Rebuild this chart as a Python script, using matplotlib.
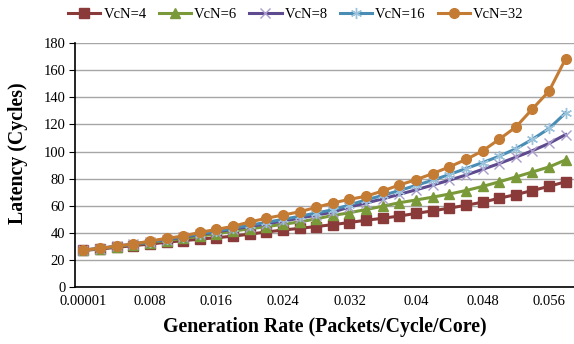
import matplotlib
matplotlib.use("Agg")
import matplotlib.pyplot as plt

# generation rate categories (packets/cycle/core)
RATES = [0.00001] + [round(0.002 * i, 3) for i in range(1, 30)]
TICK_LABELS = ["0.00001", "0.008", "0.016", "0.024", "0.032", "0.04", "0.048", "0.056"]

# latency in cycles
VCN4 = [27.0, 28.0, 29.3, 30.5, 31.7, 33.0, 34.2, 35.3, 36.4, 37.5,
        39.0, 40.6, 42.0, 43.3, 44.6, 46.0, 47.6, 49.3, 50.7, 52.4,
        54.3, 56.2, 58.2, 60.3, 62.6, 65.5, 68.2, 71.2, 74.3, 77.7]
VCN6 = [27.2, 28.3, 29.8, 31.2, 32.8, 34.3, 35.8, 37.5, 39.3, 41.2,
        43.0, 44.5, 46.3, 48.0, 50.3, 52.8, 54.8, 57.2, 59.6, 62.2,
        64.2, 66.3, 68.6, 71.2, 74.2, 77.6, 81.2, 84.9, 88.6, 93.8]
VCN8 = [27.2, 28.4, 30.0, 31.5, 33.3, 35.0, 36.8, 38.8, 40.7, 42.7,
        44.6, 46.6, 48.6, 50.8, 53.0, 55.3, 59.0, 62.0, 65.0, 68.4,
        71.7, 75.2, 78.8, 82.6, 86.8, 91.1, 95.8, 100.6, 106.0, 112.5]
VCN16 = [27.2, 28.5, 30.1, 31.6, 33.5, 35.3, 37.2, 39.3, 41.3, 43.4,
         45.6, 47.7, 49.9, 52.2, 54.6, 57.0, 60.6, 64.3, 67.6, 71.2,
         75.0, 78.8, 83.0, 87.4, 91.8, 96.5, 102.0, 109.0, 117.0, 128.5]
VCN32 = [27.3, 28.5, 30.2, 31.7, 33.9, 35.9, 37.6, 40.3, 42.5, 44.8,
         48.0, 50.7, 53.1, 55.5, 58.8, 62.0, 64.7, 67.0, 70.9, 75.3,
         79.2, 83.7, 88.6, 94.1, 100.4, 109.0, 118.0, 131.4, 144.6, 168.5]

plt.rcParams['font.family'] = ['Liberation Serif', 'DejaVu Serif']

fig = plt.figure(figsize=(5.74, 3.44), dpi=100)
ax = fig.add_axes([0.1307, 0.1657, 0.8693, 0.709])

x = list(range(len(RATES)))
ax.plot(x, VCN4, color='#8B3A3A', lw=2.2, marker='s', ms=6.5, label='VcN=4')
ax.plot(x, VCN6, color='#7A9A3A', lw=2.2, marker='^', ms=7, label='VcN=6')
ax.plot(x, VCN8, color='#5E4A8E', lw=2.2, marker='x', ms=7, mew=1,
        mec='#A99BCB', label='VcN=8')
ax.plot(x, VCN16, color='#4A8DB4', lw=2.2, marker=(6, 2, 0), ms=8, mew=1,
        mec='#9CC3DC', label='VcN=16')
ax.plot(x, VCN32, color='#C47C34', lw=2.2, marker='o', ms=7, label='VcN=32')

ax.set_xlim(-0.5, len(RATES) - 0.5)
ax.set_ylim(0, 180)
ax.set_yticks(range(0, 181, 20))
ax.set_xticks(x[::4])
ax.set_xticklabels(TICK_LABELS)
ax.tick_params(axis='x', length=0, labelsize=10.5, pad=6)
ax.tick_params(axis='y', length=4, labelsize=10.5, pad=3)
ax.yaxis.grid(True, color='#A6A6A6', lw=1)
ax.set_axisbelow(True)
for side in ['top', 'right']:
    ax.spines[side].set_visible(False)
for side in ['left', 'bottom']:
    ax.spines[side].set_linewidth(1.2)

ax.set_xlabel('Generation Rate (Packets/Cycle/Core)', fontsize=14.3,
              fontweight='bold', labelpad=6)
ax.set_ylabel('Latency (Cycles)', fontsize=14.3, fontweight='bold')
ax.yaxis.set_label_coords(-0.094, 0.55)

ax.legend(loc='lower left', bbox_to_anchor=(-0.025, 1.065), ncol=5,
          frameon=False, fontsize=10.5, handlelength=2.2, handletextpad=0.2,
          columnspacing=0.85, borderaxespad=0)

fig.savefig('out.png', dpi=100)
